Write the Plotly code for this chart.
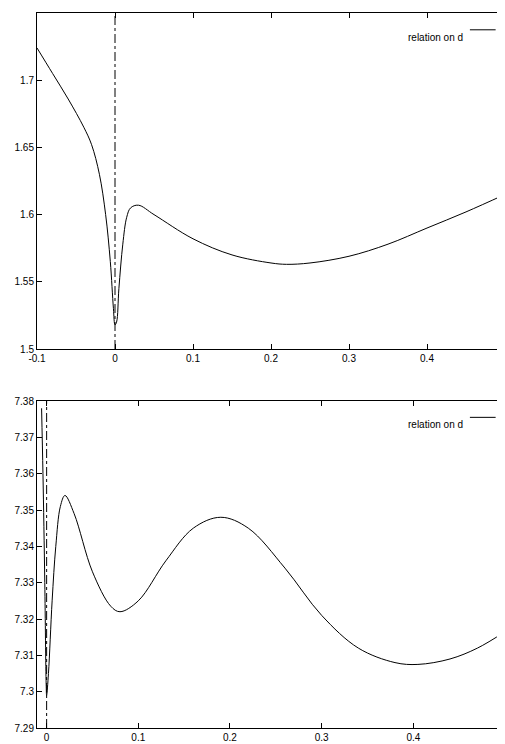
import plotly.graph_objects as go

# top panel: relation on d
top_x = [-0.1, -0.08, -0.06, -0.04, -0.03, -0.02, -0.012, -0.006, -0.002, 0.0, 0.002, 0.005,
         0.01, 0.015, 0.02, 0.03, 0.05, 0.1, 0.15, 0.2, 0.22, 0.25, 0.3, 0.35, 0.4, 0.45, 0.5]
top_y = [1.724, 1.705, 1.686, 1.665, 1.652, 1.630, 1.600, 1.565, 1.530, 1.518, 1.520, 1.545,
         1.578, 1.598, 1.605, 1.607, 1.600, 1.582, 1.570, 1.564, 1.563, 1.564, 1.569, 1.578,
         1.590, 1.602, 1.615]

# bottom panel
bot_x = [-0.0055, -0.004, -0.002, -0.0005, 0.0, 0.002, 0.006, 0.01, 0.015, 0.02, 0.03, 0.05,
         0.07, 0.08, 0.1, 0.13, 0.16, 0.19, 0.22, 0.26, 0.3, 0.34, 0.38, 0.405, 0.44, 0.47, 0.5]
bot_y = [7.378, 7.36, 7.33, 7.302, 7.299, 7.305, 7.325, 7.34, 7.351, 7.354, 7.349, 7.333,
         7.3235, 7.322, 7.325, 7.336, 7.345, 7.348, 7.345, 7.334, 7.321, 7.312, 7.308, 7.3075,
         7.309, 7.312, 7.3165]

top_ticks = [1.5, 1.55, 1.6, 1.65, 1.7, 1.75]
bot_ticks = [7.29, 7.3, 7.31, 7.32, 7.33, 7.34, 7.35, 7.36, 7.37, 7.38]

line = dict(color="black", width=1, shape="spline", smoothing=1.0)
fig = go.Figure()
fig.add_trace(go.Scatter(x=top_x, y=top_y, mode="lines", line=line, xaxis="x", yaxis="y"))
fig.add_trace(go.Scatter(x=bot_x, y=bot_y, mode="lines", line=line, xaxis="x2", yaxis="y2"))

ax = dict(showgrid=False, zeroline=False, showline=True, linecolor="black", linewidth=1,
          mirror="ticks", ticks="inside", ticklen=5, tickcolor="black", automargin=False)
xd = [29 / 505, 497 / 505]
fig.update_layout(
    width=505, height=744, margin=dict(l=0, r=0, t=0, b=0), showlegend=False,
    plot_bgcolor="white", paper_bgcolor="white",
    font=dict(family="Liberation Sans", size=10, color="black"),
    xaxis=dict(ax, domain=xd, anchor="y", range=[-0.1, 0.5], tickvals=[-0.1, 0, 0.1, 0.2, 0.3, 0.4, 0.5],
               ticktext=["-0.1", "0", "0.1", "0.2", "0.3", "0.4", "0.5"]),
    yaxis=dict(ax, domain=[1 - 341 / 744, 1 - 5 / 744], anchor="x", range=[1.5, 1.75],
               tickvals=top_ticks, ticktext=["1.5", "1.55", "1.6", "1.65", "1.7", "1.75"]),
    xaxis2=dict(ax, domain=xd, anchor="y2", range=[-0.0105, 0.5], tickvals=[0, 0.1, 0.2, 0.3, 0.4, 0.5],
                ticktext=["0", "0.1", "0.2", "0.3", "0.4", "0.5"]),
    yaxis2=dict(ax, domain=[1 - 720 / 744, 1 - 393 / 744], anchor="x2", range=[7.29, 7.38],
                tickvals=bot_ticks, ticktext=["7.29", "7.3", "7.31", "7.32", "7.33", "7.34",
                                              "7.35", "7.36", "7.37", "7.38"]),
)
dash = dict(color="black", width=1, dash="dashdot")
fig.add_shape(type="line", xref="x", yref="y domain", x0=0, x1=0, y0=0, y1=1, line=dash)
fig.add_shape(type="line", xref="x2", yref="y2 domain", x0=0, x1=0, y0=0, y1=1, line=dash)

# legend entries
for yr, ypx in [("y domain", 0.95), ("y2 domain", 0.95)]:
    xr = "x domain" if yr == "y domain" else "x2 domain"
    fig.add_annotation(text="relation on d", xref=xr, yref=yr, x=0.915, y=ypx, xanchor="right",
                       showarrow=False, font=dict(size=10))
    fig.add_shape(type="line", xref=xr, yref=yr, x0=0.925, x1=0.98, y0=ypx, y1=ypx,
                  line=dict(color="black", width=1))

fig.write_html("out.html")
